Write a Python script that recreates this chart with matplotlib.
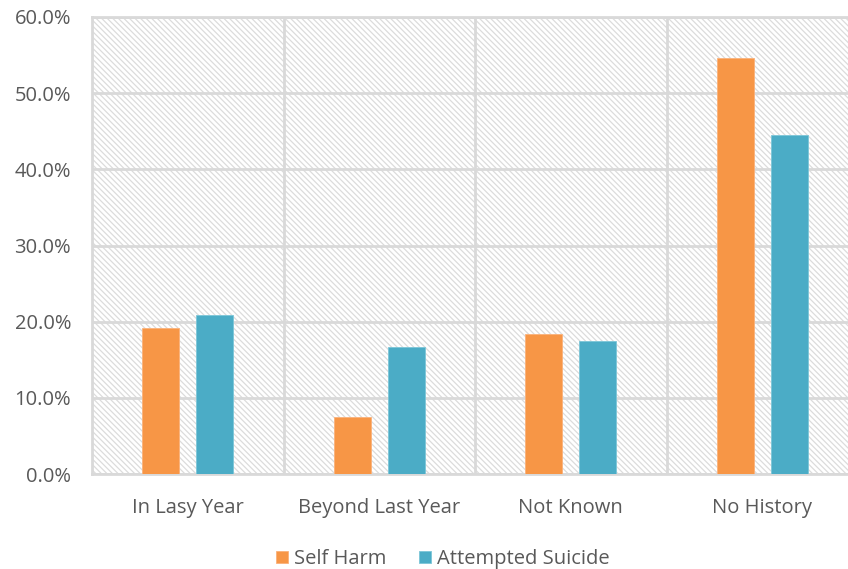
import matplotlib
matplotlib.use("Agg")
import matplotlib.pyplot as plt
from matplotlib.ticker import FuncFormatter, FixedLocator
import numpy as np

categories = ["In Lasy Year", "Beyond Last Year", "Not Known", "No History"]
self_harm = [19.2, 7.5, 18.4, 54.6]
attempted_suicide = [20.9, 16.7, 17.5, 44.5]
y_ticks = [0, 10, 20, 30, 40, 50, 60]

plt.rcParams['font.family'] = ['Open Sans', 'DejaVu Sans']
plt.rcParams['hatch.linewidth'] = 0.9

W, H = 848, 569
fig = plt.figure(figsize=(W / 100, H / 100), dpi=100)
left, right, top, bottom = 92, 858, 17, 474
ax = fig.add_axes([left / W, 1 - bottom / H, (right - left) / W, (bottom - top) / H])

ax.set_xlim(-0.5, 3.5)
ax.set_ylim(0, 60)

# hatched background
ax.add_patch(plt.Rectangle((0, 0), 1, 1, transform=ax.transAxes, facecolor='white',
                           edgecolor='#dcdcdc', linewidth=0, hatch='\\' * 6, zorder=0))
ax.set_facecolor('white')

x = np.arange(len(categories))
off = 0.141
w = 0.193
ax.bar(x - off, self_harm, width=w, color='#F79646', edgecolor='#fbb27a', linewidth=0.6,
       label='Self Harm', zorder=3)
ax.bar(x + off, attempted_suicide, width=w, color='#4BACC6', edgecolor='#7cc6d8', linewidth=0.6,
       label='Attempted Suicide', zorder=3)

ax.set_yticks(y_ticks)
ax.yaxis.set_major_formatter(FuncFormatter(lambda v, p: f"{v:.1f}%"))
ax.set_xticks(x)
ax.set_xticklabels(categories)
ax.xaxis.set_minor_locator(FixedLocator([0.5, 1.5, 2.5]))

ax.grid(axis='y', which='major', color='#d9d9d9', linewidth=2, zorder=1)
ax.grid(axis='x', which='minor', color='#d9d9d9', linewidth=2, zorder=1)
ax.set_axisbelow(True)

for s in ax.spines.values():
    s.set_color('#d9d9d9')
    s.set_linewidth(2)

ax.tick_params(axis='both', which='both', length=0, colors='#595959', labelsize=14.5)
ax.tick_params(axis='y', pad=15)
ax.tick_params(axis='x', pad=17.5)

leg = fig.legend(loc='center', bbox_to_anchor=(443 / W, 1 - 559 / H), ncol=2, frameon=False,
                 fontsize=14.5, handlelength=0.6, handleheight=0.6, handletextpad=0.3,
                 columnspacing=1.6, labelcolor='#595959')

fig.savefig('out.png', dpi=100)
